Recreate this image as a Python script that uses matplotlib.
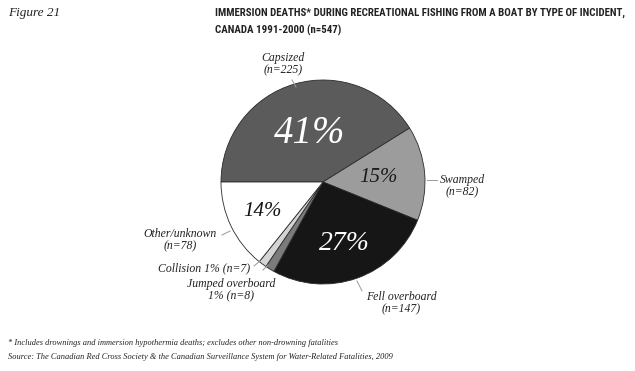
import matplotlib
matplotlib.use("Agg")
import matplotlib.pyplot as plt
import numpy as np

# Immersion deaths during recreational fishing from a boat, Canada 1991-2000
CATEGORIES = ["Capsized", "Swamped", "Fell overboard", "Jumped overboard",
              "Collision", "Other/unknown"]
COUNTS = [225, 82, 147, 8, 7, 78]
COLORS = ["#5b5b5b", "#9c9c9c", "#161616", "#7b7b7b", "#d4d4d4", "#ffffff"]
PCT_COLORS = ["white", "#1a1a1a", "white", None, None, "#111111"]
PCT_SIZES = [28, 15, 20, 0, 0, 15]
PCT_RADII = [0.49, 0.55, 0.64, 0, 0, 0.66]
TOTAL = sum(COUNTS)

W, H = 635, 371
SERIF = "Liberation Serif"


def Y(py):
    # image pixel row -> data y
    return H - py


fig = plt.figure(figsize=(6.35, 3.71), dpi=100)
ax = fig.add_axes([0, 0, 1, 1])

cx, cy, R = 323, Y(182), 102
wedges, _ = ax.pie(COUNTS, colors=COLORS, startangle=180, counterclock=False,
                   center=(cx, cy), radius=R,
                   wedgeprops=dict(edgecolor="#2a2a2a", linewidth=0.6))
ax.set_xlim(0, W)
ax.set_ylim(0, H)
ax.axis("off")

# big percentage labels inside the wedges
for w, n, col, fs, rf in zip(wedges, COUNTS, PCT_COLORS, PCT_SIZES, PCT_RADII):
    if not fs:
        continue
    mid = np.deg2rad((w.theta1 + w.theta2) / 2)
    ax.text(cx + rf * R * np.cos(mid), cy + rf * R * np.sin(mid),
            f"{round(100 * n / TOTAL)}%", ha="center", va="center",
            fontsize=fs, color=col, family=SERIF, style="italic")

# outside labels with short grey leaders
lab = dict(family=SERIF, style="italic", fontsize=8.5, color="#222222",
           linespacing=1.05)
lead = dict(color="#9a9a9a", lw=0.7)
ax.text(283, Y(64), f"{CATEGORIES[0]}\n(n={COUNTS[0]})", ha="center",
        va="center", **lab)
ax.plot([292, 296], [Y(80), Y(87)], **lead)
ax.text(462, Y(186), f"{CATEGORIES[1]}\n(n={COUNTS[1]})", ha="center",
        va="center", **lab)
ax.plot([427, 437], [Y(180), Y(180)], **lead)
ax.text(401, Y(303), f"{CATEGORIES[2]}\n(n={COUNTS[2]})", ha="center",
        va="center", **lab)
ax.plot([357, 362], [Y(281), Y(291)], **lead)
ax.text(231, Y(290), f"{CATEGORIES[3]}\n1% (n={COUNTS[3]})", ha="center",
        va="center", **lab)
ax.plot([263, 268], [Y(270), Y(265)], **lead)
ax.text(250, Y(268), f"{CATEGORIES[4]} 1% (n={COUNTS[4]})", ha="right",
        va="center", **lab)
ax.plot([254, 260], [Y(266), Y(261)], **lead)
ax.text(180, Y(240), f"{CATEGORIES[5]}\n(n={COUNTS[5]})", ha="center",
        va="center", **lab)
ax.plot([222, 230], [Y(235), Y(231)], **lead)

# header
ax.text(8, Y(13), "Figure 21", family=SERIF, style="italic", fontsize=9.5,
        va="center", color="#222222")
ax.text(215, Y(22), "IMMERSION DEATHS* DURING RECREATIONAL FISHING FROM A BOAT "
        "BY TYPE OF INCIDENT,\nCANADA 1991-2000 (n=547)",
        family=["Roboto Condensed", "Roboto"], weight="bold", fontsize=7.8,
        va="center", color="#222222", linespacing=1.7)

# footnotes
foot = dict(family=SERIF, style="italic", fontsize=6.0, color="#222222",
            va="center")
ax.text(8, Y(343), "* Includes drownings and immersion hypothermia deaths; "
        "excludes other non-drowning fatalities", **foot)
ax.text(8, Y(357), "Source: The Canadian Red Cross Society & the Canadian "
        "Surveillance System for Water-Related Fatalities, 2009", **foot)

fig.savefig("out.png", dpi=100, facecolor="white")
